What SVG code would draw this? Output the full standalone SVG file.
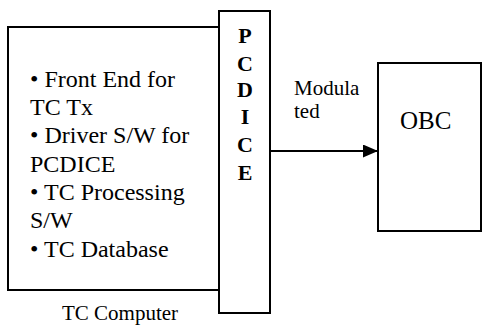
<svg xmlns="http://www.w3.org/2000/svg" width="483" height="325" viewBox="0 0 483 325">
  <defs>
    <style>
      .box { fill: #ffffff; stroke: #000000; stroke-width: 2; }
      .item { font-size: 24px; }
      .bold { font-size: 22px; font-weight: bold; text-anchor: middle; }
      .wire { stroke: #000000; stroke-width: 2; fill: none; }
    </style>
    <marker id="arrowhead" markerWidth="15" markerHeight="13" refX="15" refY="6.5" orient="auto" markerUnits="userSpaceOnUse">
      <path d="M0,0 L15,6.5 L0,13 Z" fill="#000000"/>
    </marker>
  </defs>
  <rect width="483" height="325" fill="#ffffff"/>

  <!-- TC Computer -->
  <g id="tc-computer" font-family="'Liberation Serif', 'Times New Roman', serif" fill="#000000">
    <rect class="box" x="8" y="27" width="211" height="263"/>
    <text class="item" x="30" y="87">• Front End for</text>
    <text class="item" x="30" y="115">TC Tx</text>
    <text class="item" x="30" y="143">• Driver S/W for</text>
    <text class="item" x="30" y="172">PCDICE</text>
    <text class="item" x="30" y="200">• TC Processing</text>
    <text class="item" x="30" y="228">S/W</text>
    <text class="item" x="30" y="257">• TC Database</text>
    <text x="62" y="320" font-size="21">TC Computer</text>
  </g>

  <!-- PCDICE card -->
  <g id="pcdice" font-family="'Liberation Serif', 'Times New Roman', serif" fill="#000000">
    <rect class="box" x="219" y="11" width="51" height="302"/>
    <text class="bold" x="245" y="43">P</text>
    <text class="bold" x="245" y="71">C</text>
    <text class="bold" x="245" y="97">D</text>
    <text class="bold" x="245" y="124">I</text>
    <text class="bold" x="245" y="152">C</text>
    <text class="bold" x="245" y="180">E</text>
  </g>

  <!-- OBC -->
  <g id="obc" font-family="'Liberation Serif', 'Times New Roman', serif" fill="#000000">
    <rect class="box" x="378" y="63" width="103" height="168"/>
    <text x="400" y="129" font-size="25">OBC</text>
  </g>

  <!-- Connectors -->
  <g id="connectors" font-family="'Liberation Serif', 'Times New Roman', serif" fill="#000000">
    <line class="wire" x1="270" y1="151" x2="378" y2="151" marker-end="url(#arrowhead)"/>
    <text x="294" y="95" font-size="21">Modula</text>
    <text x="294" y="118" font-size="21">ted</text>
  </g>
</svg>
